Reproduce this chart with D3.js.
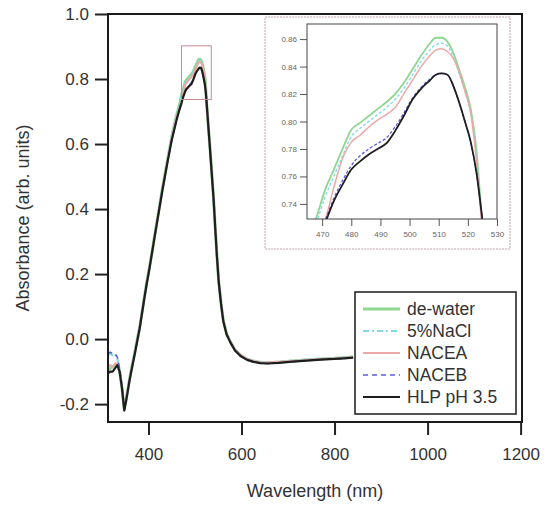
<!DOCTYPE html>
<html><head><meta charset="utf-8">
<script src="https://cdn.jsdelivr.net/npm/d3@7"></script>
<style>body{margin:0;background:#fff}svg{display:block;font-family:"Liberation Sans",Arial,sans-serif}</style>
</head><body><svg id="c" width="547" height="506"></svg>
<script>
const wavelength = [313,318,323,328,333,338,343,348,352,359,365,370,376,381,386,391,396,402,408,413,420,430,441,450,460,465,468,471,474,477,480,483,486,489,492,495,498,501,504,507,509,511,513,515,517,519,521,523,525,528,532,536,540,544,547,551,556,561,568,576,586,598,612,626,640,656,680,710,740,770,800,820,840];
const deWater = [-0.095,-0.09,-0.085,-0.08,-0.075,-0.10,-0.15,-0.215,-0.185,-0.125,-0.08,-0.045,0.0,0.036,0.082,0.128,0.172,0.22,0.272,0.316,0.377,0.464,0.552,0.622,0.686,0.712,0.730,0.750,0.765,0.780,0.794,0.799,0.804,0.809,0.814,0.820,0.828,0.838,0.848,0.857,0.861,0.861,0.858,0.850,0.838,0.825,0.809,0.778,0.724,0.668,0.592,0.512,0.432,0.332,0.26,0.178,0.11,0.056,0.016,-0.008,-0.033,-0.05,-0.062,-0.068,-0.072,-0.073,-0.071,-0.067,-0.064,-0.061,-0.059,-0.057,-0.055];
const naCl5 = [-0.05,-0.045,-0.05,-0.045,-0.06,-0.09,-0.145,-0.212,-0.185,-0.125,-0.08,-0.045,0.0,0.036,0.081,0.127,0.171,0.219,0.271,0.315,0.376,0.462,0.55,0.62,0.683,0.709,0.726,0.745,0.760,0.775,0.789,0.795,0.800,0.805,0.810,0.816,0.824,0.834,0.844,0.852,0.856,0.857,0.855,0.847,0.835,0.822,0.806,0.774,0.722,0.667,0.591,0.511,0.431,0.331,0.259,0.177,0.109,0.056,0.017,-0.006,-0.031,-0.048,-0.060,-0.066,-0.070,-0.071,-0.069,-0.066,-0.063,-0.060,-0.058,-0.056,-0.054];
const nacea = [-0.085,-0.08,-0.085,-0.075,-0.075,-0.10,-0.148,-0.215,-0.186,-0.126,-0.082,-0.047,-0.002,0.034,0.08,0.126,0.17,0.218,0.27,0.314,0.375,0.461,0.549,0.618,0.68,0.702,0.714,0.728,0.752,0.773,0.785,0.790,0.796,0.801,0.805,0.810,0.820,0.830,0.840,0.848,0.852,0.853,0.851,0.846,0.836,0.822,0.806,0.770,0.720,0.667,0.591,0.511,0.431,0.331,0.259,0.177,0.109,0.055,0.016,-0.007,-0.032,-0.049,-0.061,-0.067,-0.071,-0.072,-0.070,-0.067,-0.064,-0.061,-0.059,-0.057,-0.055];
const naceb = [-0.045,-0.04,-0.045,-0.045,-0.055,-0.09,-0.145,-0.215,-0.188,-0.128,-0.083,-0.048,-0.003,0.033,0.079,0.125,0.169,0.217,0.269,0.313,0.373,0.459,0.546,0.613,0.673,0.700,0.714,0.728,0.744,0.757,0.768,0.775,0.780,0.784,0.788,0.796,0.806,0.817,0.825,0.831,0.834,0.835,0.834,0.826,0.814,0.800,0.785,0.762,0.728,0.668,0.59,0.51,0.43,0.33,0.258,0.176,0.108,0.054,0.014,-0.010,-0.035,-0.052,-0.064,-0.070,-0.074,-0.075,-0.073,-0.069,-0.066,-0.063,-0.061,-0.059,-0.057];
const hlp = [-0.105,-0.10,-0.10,-0.09,-0.08,-0.10,-0.15,-0.22,-0.19,-0.13,-0.085,-0.05,-0.005,0.032,0.078,0.124,0.168,0.216,0.268,0.312,0.372,0.458,0.545,0.612,0.672,0.698,0.712,0.726,0.742,0.754,0.765,0.771,0.776,0.780,0.784,0.793,0.804,0.816,0.824,0.830,0.834,0.835,0.834,0.826,0.814,0.800,0.785,0.762,0.728,0.668,0.59,0.51,0.43,0.33,0.258,0.176,0.108,0.054,0.014,-0.010,-0.035,-0.052,-0.064,-0.070,-0.074,-0.075,-0.073,-0.069,-0.066,-0.063,-0.061,-0.059,-0.057];
const seriesNames = ["de-water","5%NaCl","NACEA","NACEB","HLP pH 3.5"];
const xTicks = [400,600,800,1000,1200];
const yTicks = [-0.2,0.0,0.2,0.4,0.6,0.8,1.0];
const insetXTicks = [470,480,490,500,510,520,530];
const insetYTicks = [0.74,0.76,0.78,0.80,0.82,0.84,0.86];
const zoomBox = {x0:471, x1:535, y0:0.737, y1:0.902};

const styles = [
  {color:"#8fd68f", w:3, wi:1.8, dash:null},
  {color:"#7fdbe6", w:2, wi:1.3, dash:"6,3,2,3"},
  {color:"#eba8a8", w:2, wi:1.5, dash:null},
  {color:"#5a5ae0", w:1.5, wi:1.3, dash:"5,4"},
  {color:"#1e1e1e", w:2.2, wi:1.8, dash:null}
];
const values = [deWater, naCl5, nacea, naceb, hlp];
const series = seriesNames.map((n,i)=>({name:n, pts: wavelength.map((w,j)=>[w, values[i][j]]), st: styles[i]}));

const svg = d3.select("#c");
const L=108,R=522,T=14,B=422;
const x = d3.scaleLinear().domain([313,1203]).range([L,R]);
const y = d3.scaleLinear().domain([-0.255,1.0]).range([B,T]);
const txt="#333";
const fmt1 = d=>d3.format(".1f")(d).replace("\u2212","-");

svg.append("clipPath").attr("id","mainclip").append("rect").attr("x",L).attr("y",T).attr("width",R-L).attr("height",B-T);

const gMain = svg.append("g").attr("clip-path","url(#mainclip)");
const line = d3.line().x(d=>x(d[0])).y(d=>y(d[1]));
series.forEach(s=>{
  gMain.append("path").attr("d",line(s.pts)).attr("fill","none").attr("stroke",s.st.color)
    .attr("stroke-width",s.st.w).attr("stroke-dasharray",s.st.dash).attr("stroke-linejoin","round");
});

// zoom box
svg.append("rect").attr("x",x(zoomBox.x0)).attr("y",y(zoomBox.y1))
  .attr("width",x(zoomBox.x1)-x(zoomBox.x0)).attr("height",y(zoomBox.y0)-y(zoomBox.y1))
  .attr("fill","none").attr("stroke","#c98a95").attr("stroke-width",1);

// axes
const ax = svg.append("g").attr("transform",`translate(0,${B})`)
  .call(d3.axisBottom(x).tickValues(xTicks).tickSize(13).tickPadding(13).tickFormat(d3.format("d")));
const ay = svg.append("g").attr("transform",`translate(${L},0)`)
  .call(d3.axisLeft(y).tickValues(yTicks).tickSize(13).tickPadding(6).tickFormat(fmt1));
[ax,ay].forEach(g=>{
  g.select(".domain").remove();
  g.selectAll(".tick line").attr("stroke","#222").attr("stroke-width",2);
  g.selectAll(".tick text").attr("fill",txt).attr("font-size",17).attr("font-family","Liberation Sans, Arial, sans-serif");
});
svg.append("rect").attr("x",L).attr("y",T).attr("width",R-L).attr("height",B-T)
  .attr("fill","none").attr("stroke","#1a1a1a").attr("stroke-width",2);

svg.append("text").attr("x",(L+R)/2).attr("y",497).attr("text-anchor","middle")
  .attr("font-size",18).attr("fill",txt).text("Wavelength (nm)");
svg.append("text").attr("transform",`translate(29,${(T+B)/2}) rotate(-90)`).attr("text-anchor","middle")
  .attr("font-size",18).attr("fill",txt).text("Absorbance (arb. units)");

// inset
const iL=307,iR=497,iT=24,iB=219;
svg.append("rect").attr("x",265).attr("y",17).attr("width",245).attr("height",232)
  .attr("fill","#fff").attr("stroke","#c9a0a8").attr("stroke-width",1).attr("stroke-dasharray","2,1");
const ix = d3.scaleLinear().domain([464.8,530]).range([iL,iR]);
const iy = d3.scaleLinear().domain([0.729,0.871]).range([iB,iT]);
svg.append("clipPath").attr("id","iclip").append("rect").attr("x",iL).attr("y",iT).attr("width",iR-iL).attr("height",iB-iT);
const gIn = svg.append("g").attr("clip-path","url(#iclip)");
const iline = d3.line().x(d=>ix(d[0])).y(d=>iy(d[1])).curve(d3.curveMonotoneX);
series.forEach(s=>{
  gIn.append("path").attr("d",iline(s.pts)).attr("fill","none").attr("stroke",s.st.color)
    .attr("stroke-width",s.st.wi).attr("stroke-dasharray",s.st.dash?"3,2":null);
});
const iax = svg.append("g").attr("transform",`translate(0,${iB})`)
  .call(d3.axisBottom(ix).tickValues(insetXTicks).tickSize(7).tickPadding(5).tickFormat(d3.format("d")));
const iay = svg.append("g").attr("transform",`translate(${iL},0)`)
  .call(d3.axisLeft(iy).tickValues(insetYTicks).tickSize(7).tickPadding(3).tickFormat(d3.format(".2f")));
[iax,iay].forEach(g=>{
  g.select(".domain").remove();
  g.selectAll(".tick line").attr("stroke","#555").attr("stroke-width",1);
  g.selectAll(".tick text").attr("fill","#666").attr("font-size",8).attr("font-family","Liberation Sans, Arial, sans-serif");
});
svg.append("rect").attr("x",iL).attr("y",iT).attr("width",iR-iL).attr("height",iB-iT)
  .attr("fill","none").attr("stroke","#444").attr("stroke-width",1);

// legend
const lg = svg.append("g");
lg.append("rect").attr("x",355).attr("y",292).attr("width",161).attr("height",122)
  .attr("fill","#fff").attr("stroke","#1a1a1a").attr("stroke-width",1.5);
series.forEach((s,i)=>{
  const yy = 309 + i*22;
  lg.append("line").attr("x1",363).attr("x2",400).attr("y1",yy).attr("y2",yy)
    .attr("stroke",s.st.color).attr("stroke-width",s.st.w).attr("stroke-dasharray",s.st.dash);
  lg.append("text").attr("x",407).attr("y",yy).attr("dy","0.35em").attr("font-size",17.5)
    .attr("fill",txt).text(s.name);
});
</script></body></html>
